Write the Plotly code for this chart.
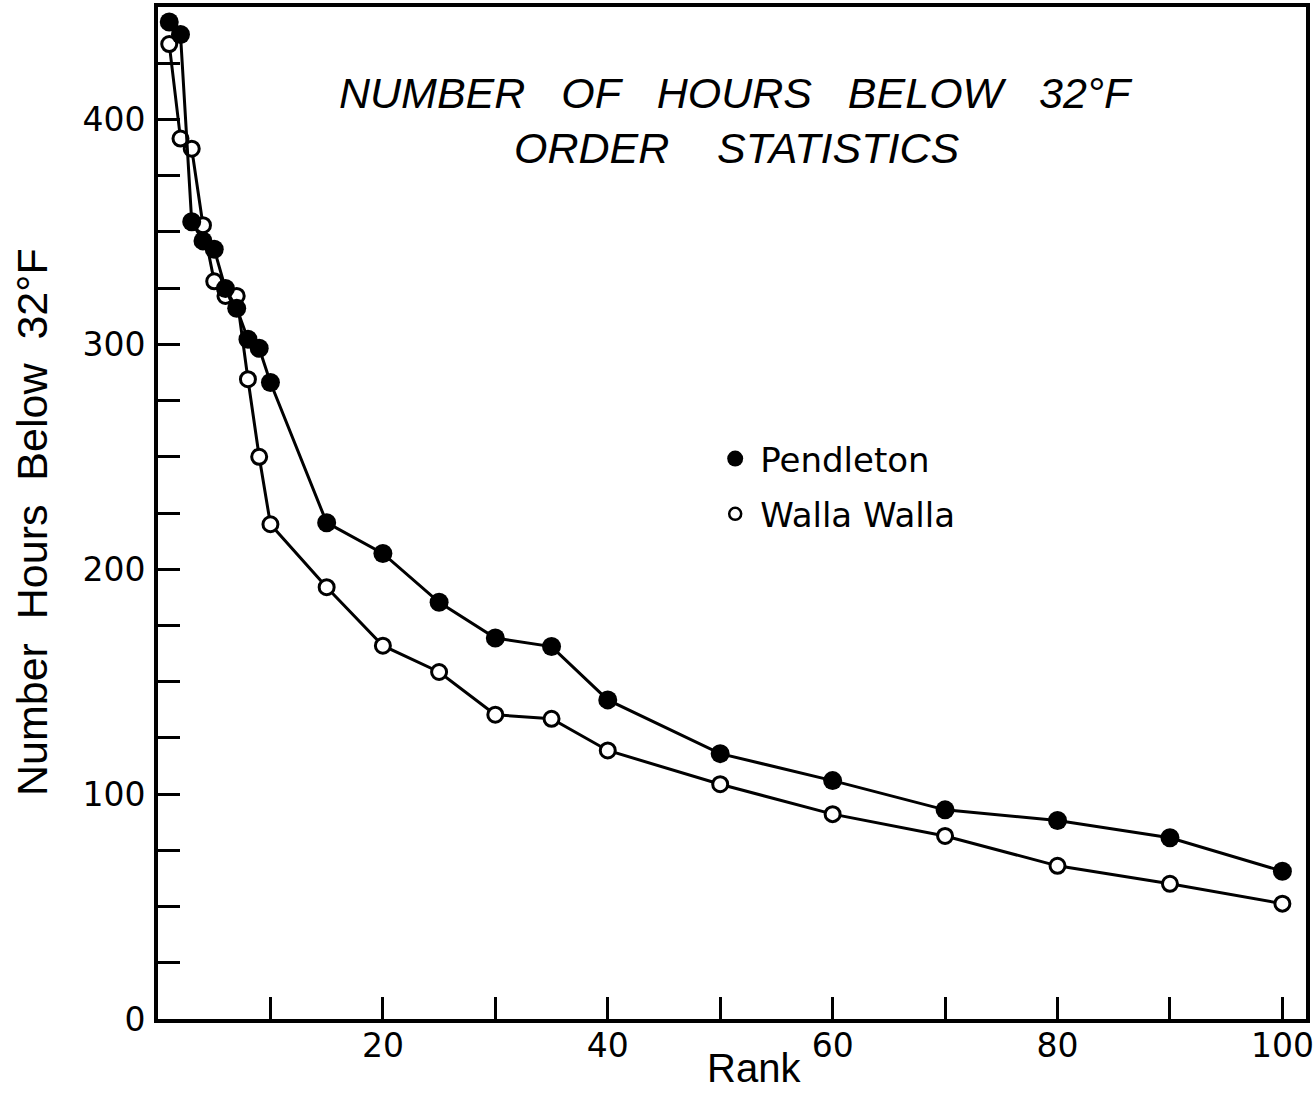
import plotly.graph_objects as go

# ---- data ----
ranks = [1, 2, 3, 4, 5, 6, 7, 8, 9, 10, 15, 20, 25, 30, 35, 40, 50, 60, 70, 80, 90, 100]
pendleton = [443.3, 437.8, 354.5, 346, 342.3, 324.8, 316, 302.3, 298.3, 283,
             220.7, 207, 185.3, 169.4, 165.6, 141.9, 118, 106, 93, 88.3, 80.6, 65.7]
walla_walla = [433.5, 391.5, 387, 353, 328, 321.5, 321.5, 284.5, 250, 220,
               192, 166, 154.3, 135.3, 133.5, 119.4, 104.4, 91.1, 81.4, 68.1, 60.1, 51.3]

x_tickvals = [10, 20, 30, 40, 50, 60, 70, 80, 90, 100]
x_ticktext = ["", "20", "", "40", "", "60", "", "80", "", "100"]
y_tickvals = list(range(0, 426, 25))
y_ticktext = [str(v) if v % 100 == 0 else "" for v in y_tickvals]

title_lines = ["NUMBER\u00a0\u00a0\u00a0OF\u00a0\u00a0\u00a0HOURS\u00a0\u00a0\u00a0BELOW\u00a0\u00a0\u00a032°F",
               "ORDER\u00a0\u00a0\u00a0\u00a0STATISTICS"]
x_title = "Rank"
y_title = "Number\u00a0\u00a0Hours\u00a0\u00a0Below\u00a0\u00a032°F"

fig = go.Figure()

fig.add_trace(go.Scatter(
    x=ranks, y=walla_walla, mode="lines+markers", showlegend=False,
    line=dict(color="black", width=3),
    marker=dict(symbol="circle", size=15, color="white", line=dict(color="black", width=3)),
))
fig.add_trace(go.Scatter(
    x=ranks, y=pendleton, mode="lines+markers", showlegend=False,
    line=dict(color="black", width=3),
    marker=dict(symbol="circle", size=19, color="black", line=dict(color="black", width=0)),
))

# legend entries (marker only)
fig.add_trace(go.Scatter(
    x=[None], y=[None], mode="markers", name="Pendleton", legendgroup="p",
    marker=dict(symbol="circle", size=18, color="black"),
))
fig.add_trace(go.Scatter(
    x=[None], y=[None], mode="markers", name="Walla Walla", legendgroup="w",
    marker=dict(symbol="circle", size=12, color="white", line=dict(color="black", width=2.5)),
))

for txt, yy in zip(title_lines, [0.915, 0.861]):
    fig.add_annotation(
        text=f"<i>{txt}</i>", xref="paper", yref="paper", x=0.5035, y=yy,
        xanchor="center", yanchor="middle", showarrow=False,
        font=dict(family="Liberation Sans", size=43, color="black"),
    )

# axis titles
fig.add_annotation(
    text=x_title, xref="paper", yref="paper", x=0.519, y=-0.0484,
    xanchor="center", yanchor="middle", showarrow=False,
    font=dict(family="Liberation Sans", size=40, color="black"),
)
fig.add_annotation(
    text=y_title, xref="paper", yref="paper", x=-0.1098, y=0.491, textangle=-90,
    xanchor="center", yanchor="middle", showarrow=False,
    font=dict(family="Liberation Sans", size=43, color="black"),
)

axis_common = dict(
    showline=True, linecolor="black", linewidth=4, mirror=True,
    ticks="inside", ticklen=22, tickwidth=3, tickcolor="black",
    showgrid=False, zeroline=False,
    tickfont=dict(family="DejaVu Sans", size=33, color="black"),
)

fig.update_xaxes(
    range=[0, 102.1], tickmode="array", tickvals=x_tickvals, ticktext=x_ticktext,
    ticklabelstandoff=-6,
    **axis_common,
)
fig.update_yaxes(
    range=[0, 450], tickmode="array", tickvals=y_tickvals, ticktext=y_ticktext,
    ticklabelstandoff=2,
    **axis_common,
)

fig.update_layout(
    width=1315, height=1116,
    margin=dict(l=158, r=9, t=7, b=97, autoexpand=False),
    paper_bgcolor="white", plot_bgcolor="white",
    showlegend=True,
    legend=dict(
        x=0.481, y=0.582, xanchor="left", yanchor="top",
        bgcolor="rgba(0,0,0,0)", borderwidth=0,
        font=dict(family="DejaVu Sans", size=34, color="black"),
        traceorder="grouped", tracegroupgap=8, itemsizing="trace", itemwidth=40,
    ),
)

fig.write_html("out.html")
